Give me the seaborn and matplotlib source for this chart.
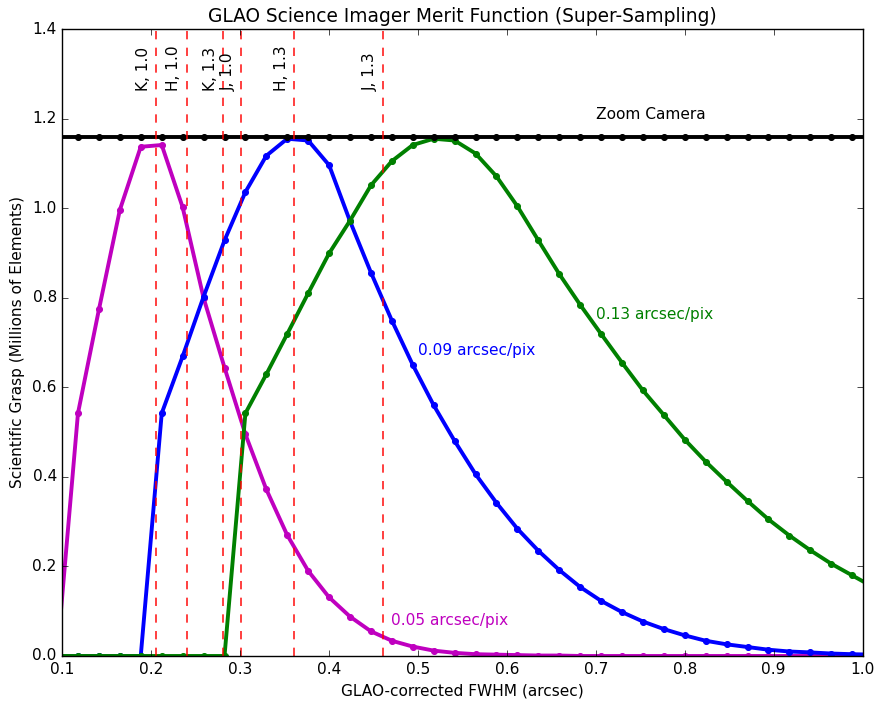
import matplotlib
matplotlib.use("Agg")
import matplotlib.pyplot as plt
import seaborn as sns
import pandas as pd

#============================= DATA =============================

fwhm = [0.0941, 0.1176, 0.1412, 0.1647, 0.1882, 0.2118, 0.2353, 0.2588, 0.2824, 0.3059,
        0.3294, 0.3529, 0.3765, 0.4000, 0.4235, 0.4471, 0.4706, 0.4941, 0.5176, 0.5412,
        0.5647, 0.5882, 0.6118, 0.6353, 0.6588, 0.6824, 0.7059, 0.7294, 0.7529, 0.7765,
        0.8000, 0.8235, 0.8471, 0.8706, 0.8941, 0.9176, 0.9412, 0.9647, 0.9882, 1.0118]

grasp_005 = [0.0, 0.542, 0.774, 0.996, 1.137, 1.141, 1.002, 0.80, 0.644, 0.495,
             0.372, 0.270, 0.190, 0.131, 0.088, 0.055, 0.034, 0.021, 0.012, 0.007,
             0.004, 0.003, 0.002, 0.001, 0.001, 0.0, 0.0, 0.0, 0.0, 0.0,
             0.0, 0.0, 0.0, 0.0, 0.0, 0.0, 0.0, 0.0, 0.0, 0.0]

grasp_009 = [0.0, 0.0, 0.0, 0.0, 0.0, 0.542, 0.669, 0.802, 0.928, 1.036,
             1.117, 1.155, 1.151, 1.096, 0.971, 0.856, 0.749, 0.650, 0.560, 0.480,
             0.406, 0.342, 0.284, 0.235, 0.192, 0.154, 0.123, 0.098, 0.077, 0.060,
             0.046, 0.034, 0.026, 0.020, 0.014, 0.010, 0.008, 0.0055, 0.004, 0.003]

grasp_013 = [0.0, 0.0, 0.0, 0.0, 0.0, 0.0, 0.0, 0.0, 0.0, 0.542,
             0.629, 0.719, 0.810, 0.899, 0.972, 1.051, 1.105, 1.141, 1.155, 1.151,
             1.122, 1.071, 1.004, 0.928, 0.853, 0.784, 0.719, 0.655, 0.593, 0.538,
             0.483, 0.434, 0.389, 0.346, 0.305, 0.269, 0.236, 0.206, 0.180, 0.154]

zoom_camera = [1.158] * len(fwhm)

band_names = ["K, 1.0", "H, 1.0", "K, 1.3", "J, 1.0", "H, 1.3", "J, 1.3"]
band_fwhm = [0.2054, 0.2399, 0.2807, 0.3009, 0.3605, 0.4603]

#============================= PLOT =============================

plt.style.use("classic")
plt.rcParams["font.family"] = ["DejaVu Sans"]

fs = 11.1

fig = plt.figure(figsize=(8.74, 7.04), dpi=100, facecolor="white")
ax = fig.add_axes([0.0713, 0.0682, 0.9157, 0.8906])
ax.set_facecolor("white")

series = [(grasp_005, "m"), (grasp_009, "b"), (grasp_013, "g"), (zoom_camera, "k")]
for vals, col in series:
    df = pd.DataFrame({"fwhm": fwhm, "grasp": vals})
    sns.lineplot(data=df, x="fwhm", y="grasp", color=col, lw=2.8, marker="o",
                 markersize=4.3, mec=col, mfc=col, ax=ax)

for name, xv in zip(band_names, band_fwhm):
    ax.axvline(xv, color="r", ls="--", lw=1.4, alpha=0.75)
    ax.text(xv - 0.006, 1.262, name, rotation=90, ha="right", va="bottom", fontsize=fs)

ax.text(0.70, 1.21, "Zoom Camera", color="k", fontsize=fs, va="center")
ax.text(0.70, 0.763, "0.13 arcsec/pix", color="g", fontsize=fs, va="center")
ax.text(0.50, 0.683, "0.09 arcsec/pix", color="b", fontsize=fs, va="center")
ax.text(0.47, 0.08, "0.05 arcsec/pix", color="m", fontsize=fs, va="center")

ax.set_xlim(0.1, 1.0)
ax.set_ylim(0.0, 1.4)
ax.set_xticks([0.1, 0.2, 0.3, 0.4, 0.5, 0.6, 0.7, 0.8, 0.9, 1.0])
ax.set_yticks([0.0, 0.2, 0.4, 0.6, 0.8, 1.0, 1.2, 1.4])
ax.tick_params(labelsize=fs)
ax.set_xlabel("GLAO-corrected FWHM (arcsec)", fontsize=fs)
ax.set_ylabel("Scientific Grasp (Millions of Elements)", fontsize=fs)
ax.set_title("GLAO Science Imager Merit Function (Super-Sampling)", fontsize=13.4)

fig.savefig("out.png", dpi=100, facecolor="white")
